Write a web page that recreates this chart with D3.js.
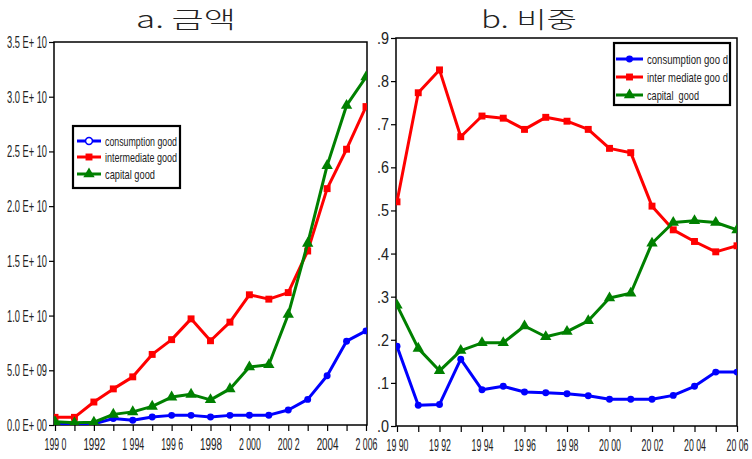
<!DOCTYPE html>
<html>
<head>
<meta charset="utf-8">
<script src="https://cdn.jsdelivr.net/npm/d3@7"></script>
<style>
  html, body { margin: 0; padding: 0; background: #fff; }
  svg { display: block; }
  text { font-family: "Liberation Sans", Arial, sans-serif; fill: #222; }
</style>
</head>
<body>
<svg id="chart" width="752" height="459"></svg>
<script>
// ---- data ----
const years = [1990, 1991, 1992, 1993, 1994, 1995, 1996, 1997, 1998, 1999, 2000, 2001, 2002, 2003, 2004, 2005, 2006];

// a. amounts (units of 1e9)
const amtConsumption  = [0.2, 0.0, 0.1, 0.6, 0.43, 0.73, 0.88, 0.88, 0.73, 0.88, 0.9, 0.9, 1.37, 2.34, 4.5, 7.66, 8.6];
const amtIntermediate = [0.7, 0.7, 2.1, 3.3, 4.4, 6.45, 7.8, 9.7, 7.7, 9.4, 11.9, 11.5, 12.1, 15.9, 21.6, 25.2, 29.1];
const amtCapital      = [0.3, 0.2, 0.25, 0.97, 1.2, 1.7, 2.55, 2.8, 2.3, 3.3, 5.3, 5.5, 10.1, 16.6, 23.7, 29.2, 31.8];

// b. shares
const shrConsumption  = [0.185, 0.048, 0.05, 0.155, 0.084, 0.092, 0.079, 0.077, 0.075, 0.07, 0.062, 0.062, 0.062, 0.071, 0.092, 0.125, 0.125];
const shrIntermediate = [0.52, 0.773, 0.826, 0.671, 0.719, 0.714, 0.688, 0.716, 0.707, 0.688, 0.644, 0.634, 0.51, 0.455, 0.428, 0.404, 0.418];
const shrCapital      = [0.28, 0.18, 0.128, 0.175, 0.193, 0.193, 0.232, 0.207, 0.219, 0.244, 0.297, 0.308, 0.424, 0.472, 0.476, 0.472, 0.455];

// tick values and labels
const amtTicks = [0, 5, 10, 15, 20, 25, 30, 35];
const amtTickLabels = ["0.0 E+ 00", "5.0 E+ 09", "1.0 E+ 10", "1.5 E+ 10", "2.0 E+ 10", "2.5 E+ 10", "3.0 E+ 10", "3.5 E+ 10"];
const shrTicks = [0, 0.1, 0.2, 0.3, 0.4, 0.5, 0.6, 0.7, 0.8, 0.9];
const shrTickLabels = [".0", ".1", ".2", ".3", ".4", ".5", ".6", ".7", ".8", ".9"];
const yearTicksA = [1990, 1992, 1994, 1996, 1998, 2000, 2002, 2004, 2006];
const yearLabelsA = ["199 0", "1992", "1 994", "199 6", "1998", "2 000", "200 2", "2004", "2 006"];
const yearLabelsB = ["19 90", "19 92", "19 94", "19 96", "19 98", "20 00", "20 02", "20 04", "20 06"];

const titles = ["a. 금액", "b. 비중"];
const legendA = ["consumption good", "intermediate good", "capital good"];
const legendB = ["consumption goo d", "inter mediate goo d", "capital  good"];

const colors = ["#0000ff", "#ff0000", "#008000"];
const symbols = [d3.symbolCircle, d3.symbolSquare, d3.symbolTriangle];
const symSizes = [38, 48, 56];

const svg = d3.select("#chart");

// fit text to a set width (narrow face)
function fitWidth(sel, wf) {
  sel.each(function (d, i) {
    const w = typeof wf === "function" ? wf.call(this, d, i) : wf;
    if (!this.textContent) return;
    this.setAttribute("textLength", w);
    this.setAttribute("lengthAdjust", "spacingAndGlyphs");
  });
}

function panel(cfg) {
  const g = svg.append("g");
  const x = d3.scaleLinear().domain([1990, 2006]).range([cfg.x0, cfg.x1]);
  const y = d3.scaleLinear().domain(cfg.yDomain).range([cfg.yBottom, cfg.yTop]);

  const clipId = "clip" + cfg.id;
  svg.append("clipPath").attr("id", clipId).append("rect")
    .attr("x", cfg.frameLeft).attr("y", cfg.yTop)
    .attr("width", cfg.frameRight - cfg.frameLeft).attr("height", cfg.yBottom - cfg.yTop);

  // frame
  g.append("rect")
    .attr("x", cfg.frameLeft).attr("y", cfg.yTop)
    .attr("width", cfg.frameRight - cfg.frameLeft).attr("height", cfg.yBottom - cfg.yTop)
    .attr("fill", "none").attr("stroke", "#000").attr("stroke-width", 1.5);

  // y axis
  const yAx = g.append("g").attr("transform", `translate(${cfg.frameLeft},0)`)
    .call(d3.axisLeft(y).tickValues(cfg.yTicks).tickSize(5).tickSizeOuter(0)
      .tickFormat((d, i) => cfg.yLabels[i]));
  yAx.select(".domain").remove();
  yAx.selectAll(".tick line").attr("stroke", "#000").attr("stroke-width", 1.2);
  yAx.selectAll(".tick text").attr("x", -7).attr("font-size", 17)
    .style("font-family", "'Liberation Sans', Arial, sans-serif").attr("fill", "#222")
    .call(fitWidth, cfg.yLabelW);

  // x axis
  const xAx = g.append("g").attr("transform", `translate(0,${cfg.yBottom})`)
    .call(d3.axisBottom(x).tickValues(years).tickSize(6).tickSizeOuter(0)
      .tickFormat(d => { const i = yearTicksA.indexOf(d); return i >= 0 ? cfg.xLabels[i] : ""; }));
  xAx.select(".domain").remove();
  xAx.selectAll(".tick line").attr("stroke", "#000").attr("stroke-width", 1.2);
  xAx.selectAll(".tick text").attr("y", 13).attr("font-size", 17)
    .style("font-family", "'Liberation Sans', Arial, sans-serif").attr("fill", "#222")
    .call(fitWidth, cfg.xLabelW);

  // series
  const plot = g.append("g").attr("clip-path", `url(#${clipId})`);
  cfg.series.forEach((vals, si) => {
    const pts = years.map((yr, i) => [yr, vals[i]]);
    plot.append("path")
      .attr("d", d3.line().x(d => x(d[0])).y(d => y(d[1]))(pts))
      .attr("fill", "none").attr("stroke", colors[si]).attr("stroke-width", 3)
      .attr("stroke-linejoin", "round");
    plot.selectAll(null).data(pts).enter().append("path")
      .attr("transform", d => `translate(${x(d[0])},${y(d[1])})`)
      .attr("d", d3.symbol().type(symbols[si]).size(symSizes[si]))
      .attr("fill", colors[si]);
  });

  // title
  g.append("text").attr("x", cfg.titleX).attr("y", 28).attr("text-anchor", "middle")
    .attr("font-size", 23).attr("font-weight", 300)
    .style("font-family", "'Noto Sans CJK KR', 'Noto Sans', sans-serif")
    .attr("fill", "#222").text(cfg.title)
    .call(fitWidth, cfg.titleW);

  // legend
  const L = cfg.legend;
  const lg = g.append("g");
  lg.append("rect").attr("x", L.x).attr("y", L.y).attr("width", L.w).attr("height", L.h)
    .attr("fill", "#fff").attr("stroke", "#000").attr("stroke-width", 2.2);
  L.labels.forEach((lab, i) => {
    const cy = L.rowY[i];
    lg.append("line").attr("x1", L.lx0).attr("x2", L.lx1).attr("y1", cy).attr("y2", cy)
      .attr("stroke", colors[i]).attr("stroke-width", 3);
    const mk = lg.append("path")
      .attr("transform", `translate(${(L.lx0 + L.lx1) / 2},${cy})`)
      .attr("d", d3.symbol().type(symbols[i]).size(symSizes[i]));
    if (i === 0 && L.openFirst) {
      mk.attr("fill", "#fff").attr("stroke", colors[i]).attr("stroke-width", 1.5);
    } else {
      mk.attr("fill", colors[i]);
    }
    lg.append("text").attr("x", L.tx).attr("y", cy + 4.5).attr("font-size", L.fs)
      .style("white-space", "pre").attr("fill", "#222").text(lab)
      .call(fitWidth, L.textW[i]);
  });
}

panel({
  id: "A", title: titles[0], titleX: 186, titleW: 100,
  x0: 55, x1: 366, frameLeft: 54, frameRight: 367, yTop: 42, yBottom: 425,
  yDomain: [0, 35], yTicks: amtTicks, yLabels: amtTickLabels, yLabelW: 40,
  xLabels: yearLabelsA, xLabelW: 22,
  series: [amtConsumption, amtIntermediate, amtCapital],
  legend: { x: 73, y: 126, w: 107, h: 62, rowY: [141, 157, 174], lx0: 77, lx1: 101, tx: 105,
            fs: 13.5, textW: [72, 72, 50], labels: legendA, openFirst: true }
});

panel({
  id: "B", title: titles[1], titleX: 529, titleW: 96,
  x0: 397, x1: 737, frameLeft: 396, frameRight: 737, yTop: 38, yBottom: 426,
  yDomain: [0, 0.9], yTicks: shrTicks, yLabels: shrTickLabels, yLabelW: 12,
  xLabels: yearLabelsB, xLabelW: 22,
  series: [shrConsumption, shrIntermediate, shrCapital],
  legend: { x: 614, y: 43, w: 116, h: 62, rowY: [59, 77, 95], lx0: 616, lx1: 643, tx: 647,
            fs: 13.5, textW: [81, 81, 52], labels: legendB, openFirst: false }
});
</script>
</body>
</html>
